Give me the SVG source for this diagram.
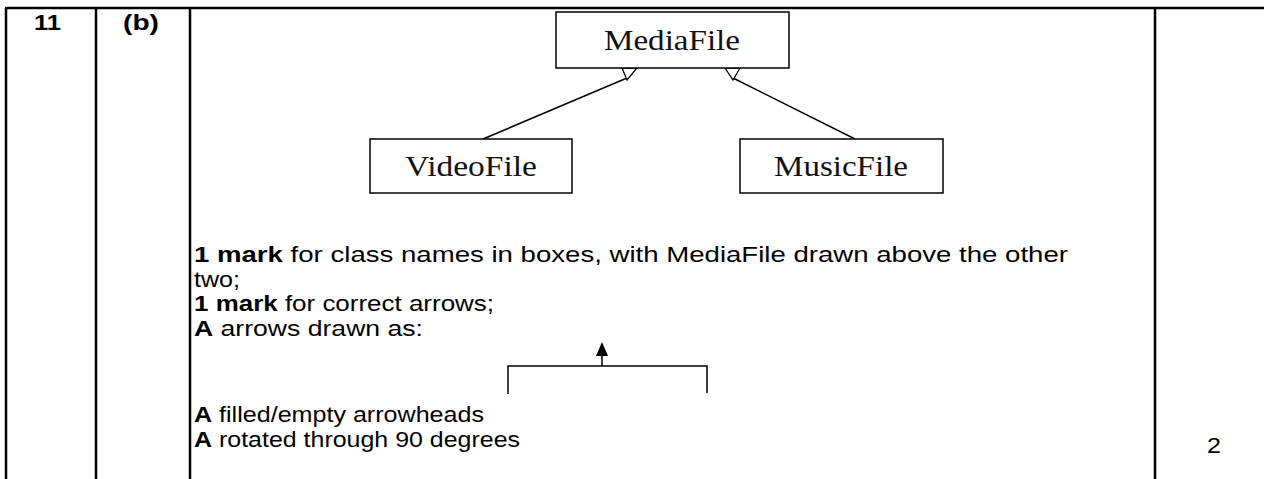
<svg xmlns="http://www.w3.org/2000/svg" width="1264" height="479" viewBox="0 0 1264 479">
<style>
.grid{stroke:#000;stroke-width:2.5;fill:none}
.box{fill:#fff;stroke:#000;stroke-width:1.5}
.cls{font-family:"Liberation Serif",serif;font-size:29px;fill:#111;text-anchor:middle}
.t{font-family:"Liberation Sans",Arial,sans-serif;font-size:22px;fill:#000}
.b{font-weight:bold}
.conn{stroke:#000;stroke-width:1.5;fill:none}
.gen{fill:#fff;stroke:#000;stroke-width:1.3}
</style>
<rect width="1264" height="479" fill="#fff"/>
<g id="table">
<line class="grid" x1="5" y1="8" x2="1264" y2="8"/>
<line class="grid" x1="6" y1="8" x2="6" y2="479"/>
<line class="grid" x1="96" y1="8" x2="96" y2="479"/>
<line class="grid" x1="190" y1="8" x2="190" y2="479"/>
<line class="grid" x1="1155" y1="8" x2="1155" y2="479"/>
<text class="t b" x="34" y="30" textLength="27" lengthAdjust="spacingAndGlyphs">11</text>
<text class="t b" x="123" y="30" textLength="36" lengthAdjust="spacingAndGlyphs">(b)</text>
<text class="t" x="1207" y="453" textLength="14" lengthAdjust="spacingAndGlyphs">2</text>
</g>
<g id="connectors">
<line class="conn" x1="483" y1="139" x2="627" y2="78"/>
<line class="conn" x1="855" y1="139" x2="733" y2="78"/>
<polygon class="gen" points="622,68 637,68 627,80"/>
<polygon class="gen" points="725,68 740,68 733,80"/>
</g>
<g id="MediaFile">
<rect class="box" x="556" y="12" width="233" height="56"/>
<text class="cls" x="672" y="50" textLength="136" lengthAdjust="spacingAndGlyphs">MediaFile</text>
</g>
<g id="VideoFile">
<rect class="box" x="370" y="139" width="202" height="54"/>
<text class="cls" x="471" y="176" textLength="132" lengthAdjust="spacingAndGlyphs">VideoFile</text>
</g>
<g id="MusicFile">
<rect class="box" x="740" y="139" width="203" height="54"/>
<text class="cls" x="841" y="176" textLength="134" lengthAdjust="spacingAndGlyphs">MusicFile</text>
</g>
<g id="notes">
<text class="t" x="194" y="262" textLength="874" lengthAdjust="spacingAndGlyphs"><tspan class="b">1 mark</tspan> for class names in boxes, with MediaFile drawn above the other</text>
<text class="t" x="194" y="287" textLength="46" lengthAdjust="spacingAndGlyphs">two;</text>
<text class="t" x="194" y="311" textLength="300" lengthAdjust="spacingAndGlyphs"><tspan class="b">1 mark</tspan> for correct arrows;</text>
<text class="t" x="194" y="336" textLength="229" lengthAdjust="spacingAndGlyphs"><tspan class="b">A</tspan> arrows drawn as:</text>
<text class="t" x="194" y="422" textLength="290" lengthAdjust="spacingAndGlyphs"><tspan class="b">A</tspan> filled/empty arrowheads</text>
<text class="t" x="194" y="447" textLength="326" lengthAdjust="spacingAndGlyphs"><tspan class="b">A</tspan> rotated through 90 degrees</text>
</g>
<g id="bracket">
<polyline class="conn" points="508,394 508,366 707,366 707,393"/>
<line class="conn" x1="602" y1="366" x2="602" y2="354"/>
<polygon points="596,356 608,356 602,342" fill="#000"/>
</g>
</svg>
